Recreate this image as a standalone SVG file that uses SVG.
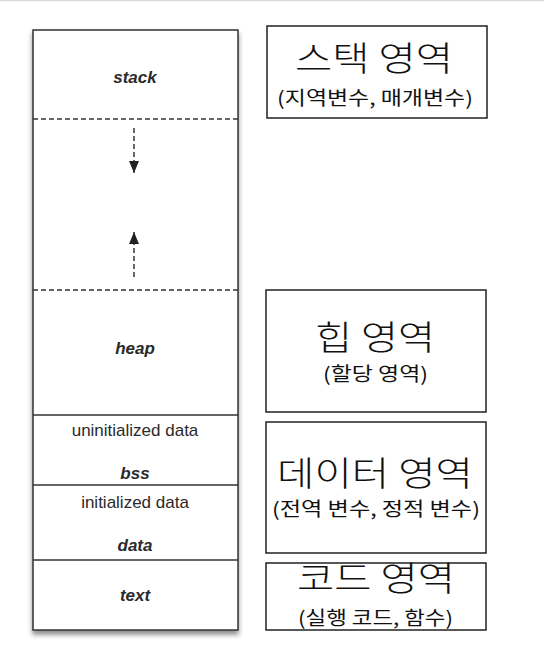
<svg xmlns="http://www.w3.org/2000/svg" width="544" height="647" viewBox="0 0 544 647">
<style>
.lbl{font-family:"Liberation Sans",Arial,sans-serif;font-size:17px;fill:#2a2a2a;text-anchor:middle}
.bi{font-weight:bold;font-style:italic}
.seg{fill:none;stroke:#333;stroke-width:1.5}
.dash{stroke:#333;stroke-width:1.5;stroke-dasharray:5 3;fill:none}
.box{fill:#fff;stroke:#222;stroke-width:1.5}
.kt{font-family:"Noto Sans CJK KR","Noto Sans",sans-serif;fill:#111}
.t1{font-size:34px;font-weight:300}
.t2{font-size:19px}
</style>
<defs>
<filter id="sh" x="-10%" y="-10%" width="120%" height="120%">
<feGaussianBlur in="SourceAlpha" stdDeviation="2.5"/>
<feOffset dx="0" dy="4"/>
<feComponentTransfer><feFuncA type="linear" slope="0.45"/></feComponentTransfer>
<feMerge><feMergeNode/><feMergeNode in="SourceGraphic"/></feMerge>
</filter>
<marker id="ah" viewBox="0 0 12 10" refX="12" refY="5" markerWidth="12" markerHeight="10" markerUnits="userSpaceOnUse" orient="auto">
<path d="M0,0 L12,5 L0,10 Z" fill="#222"/>
</marker>
</defs>
<rect width="544" height="647" fill="#fff"/>
<line x1="0" y1="0.5" x2="544" y2="0.5" stroke="#d8d8d8" stroke-width="1.5"/>
<g id="memory">
<rect x="33" y="30" width="205" height="600" fill="#fff" stroke="#333" stroke-width="1.5" filter="url(#sh)"/>
<line class="dash" x1="33" y1="119" x2="238" y2="119"/>
<line class="dash" x1="33" y1="290" x2="238" y2="290"/>
<line class="seg" x1="33" y1="415" x2="238" y2="415"/>
<line class="seg" x1="33" y1="485" x2="238" y2="485"/>
<line class="seg" x1="33" y1="560" x2="238" y2="560"/>
<text class="lbl bi" x="135" y="83">stack</text>
<text class="lbl bi" x="135" y="354">heap</text>
<text class="lbl" x="135" y="436">uninitialized data</text>
<text class="lbl bi" x="135" y="479">bss</text>
<text class="lbl" x="135" y="508">initialized data</text>
<text class="lbl bi" x="135" y="551">data</text>
<text class="lbl bi" x="135" y="601">text</text>
</g>
<g id="connectors">
<line class="dash" x1="134" y1="128" x2="134" y2="173" marker-end="url(#ah)"/>
<line class="dash" x1="134" y1="277" x2="134" y2="232" marker-end="url(#ah)"/>
</g>
<g id="stack-area">
<rect class="box" x="267" y="26" width="220" height="92"/>
<text class="kt t1" x="295" y="71" textLength="158" lengthAdjust="spacingAndGlyphs">스택 영역</text>
<text class="kt t2" x="277" y="105" textLength="196" lengthAdjust="spacingAndGlyphs">(지역변수, 매개변수)</text>
</g>
<g id="heap-area">
<rect class="box" x="266" y="290" width="220" height="122"/>
<text class="kt t1" x="315" y="350" textLength="120" lengthAdjust="spacingAndGlyphs">힙 영역</text>
<text class="kt t2" x="323" y="381" textLength="105" lengthAdjust="spacingAndGlyphs">(할당 영역)</text>
</g>
<g id="data-area">
<rect class="box" x="266" y="422" width="220" height="131"/>
<text class="kt t1" x="277" y="486" font-size="33" textLength="196" lengthAdjust="spacingAndGlyphs">데이터 영역</text>
<text class="kt t2" x="272" y="516" font-size="18" textLength="208" lengthAdjust="spacingAndGlyphs">(전역 변수, 정적 변수)</text>
</g>
<g id="code-area">
<rect class="box" x="266" y="563" width="220" height="67"/>
<text class="kt t1" x="297" y="591" textLength="158" lengthAdjust="spacingAndGlyphs">코드 영역</text>
<text class="kt t2" x="298" y="625" textLength="155" lengthAdjust="spacingAndGlyphs">(실행 코드, 함수)</text>
</g>
</svg>
